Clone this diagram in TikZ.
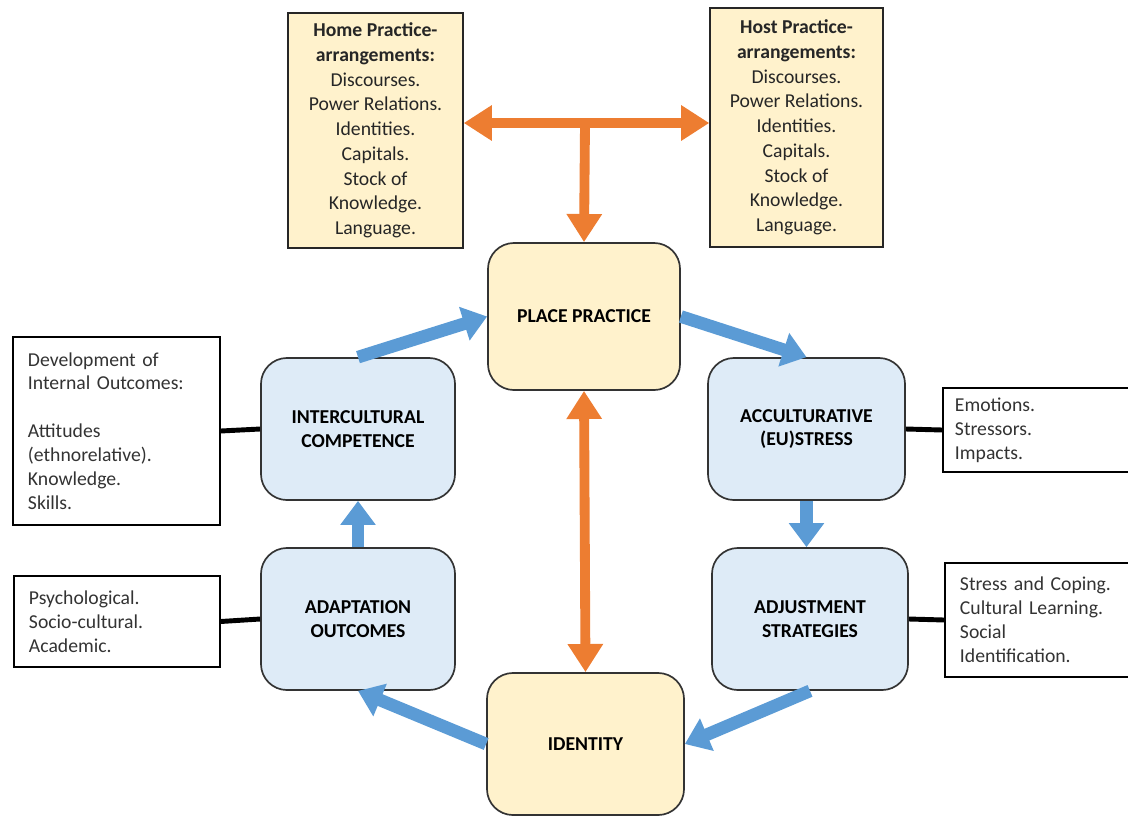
\documentclass[tikz,border=0pt]{standalone}
\usepackage{fontspec}
\setmainfont{Carlito}
\usetikzlibrary{positioning,calc,arrows.meta}

\definecolor{cream}{HTML}{FFF2CC}
\definecolor{paleblue}{HTML}{DEEBF7}
\definecolor{flowblue}{HTML}{5B9BD5}
\definecolor{linkorange}{HTML}{ED7D31}

\begin{document}
\begin{tikzpicture}[x=0.025cm,y=-0.025cm,
	every node/.style={font=\fontsize{14}{17}\selectfont},
	practicebox/.style={draw=black!85,line width=1pt,fill=cream,align=center,inner sep=0pt,text=black!85,font=\fontsize{14}{17.6}\selectfont},
	placebox/.style={draw=black!80,line width=1.2pt,fill=cream,rounded corners=0.65cm,align=center,font=\fontsize{14}{17}\selectfont\bfseries},
	stagebox/.style={placebox,fill=paleblue},
	notebox/.style={draw=black,line width=1pt,fill=white,align=left,text=black!80},
	flow/.style={draw=flowblue,line width=9pt,-{Triangle[length=17pt,width=24pt]}},
	link/.style={draw=linkorange,line width=7pt,{Triangle[length=20pt,width=24pt]}-{Triangle[length=20pt,width=24pt]}},
	tie/.style={draw=black,line width=3.5pt}]
	
	\useasboundingbox (0,0) rectangle (1128,816);
	
	% practice-arrangements
	\node[practicebox, minimum width=4.375cm, minimum height=5.875cm] (home) at (375.5,130.5)
	{\textbf{Home Practice-}\\\textbf{arrangements:}\\Discourses.\\Power Relations.\\Identities.\\Capitals.\\Stock of\\Knowledge.\\Language.};
	\node[practicebox, minimum width=4.325cm, minimum height=5.975cm] (host) at (796.5,127.5)
	{\textbf{Host Practice-}\\\textbf{arrangements:}\\Discourses.\\Power Relations.\\Identities.\\Capitals.\\Stock of\\Knowledge.\\Language.};
	
	% centre column
	\node[placebox, minimum width=4.8cm, minimum height=3.675cm] (place) at (584,316.5) {PLACE PRACTICE};
	\node[placebox, minimum width=4.925cm, minimum height=3.55cm] (identity) at (585.5,744) {IDENTITY};
	
	% stages
	\node[stagebox, minimum width=4.85cm, minimum height=3.55cm] (comp) at (358,429) {INTERCULTURAL\\COMPETENCE};
	\node[stagebox, minimum width=4.925cm, minimum height=3.55cm] (stress) at (806.5,429) {ACCULTURATIVE\\(EU)STRESS};
	\node[stagebox, minimum width=4.85cm, minimum height=3.55cm] (adapt) at (358,619) {ADAPTATION\\OUTCOMES};
	\node[stagebox, minimum width=4.9cm, minimum height=3.55cm] (adjust) at (810,619) {ADJUSTMENT\\STRATEGIES};
	
	% notes
	\node[notebox, inner xsep=0.375cm, text width=4.425cm, minimum height=4.7cm] (compnote) at (116.5,431)
	{Development of\\Internal Outcomes:\\[17pt]Attitudes\\(ethnorelative).\\Knowledge.\\Skills.};
	\node[notebox, inner xsep=0.375cm, text width=4.4cm, minimum height=2.275cm] (adaptnote) at (117,621.5)
	{Psychological.\\Socio-cultural.\\Academic.};
	\node[notebox, inner xsep=0.3cm, text width=4.15cm, minimum height=2.1cm] (stressnote) at (1038,430)
	{Emotions.\\Stressors.\\Impacts.};
	\node[notebox, inner xsep=0.375cm, text width=3.95cm, minimum height=2.85cm] (adjustnote) at (1039,620)
	{Stress and Coping.\\Cultural Learning.\\Social\\Identification.};
	
	\draw[tie] (compnote.east) -- (comp.west);
	\draw[tie] (adaptnote.east) -- (adapt.west);
	\draw[tie] (stress.east) -- (stressnote.west);
	\draw[tie] (adjust.east) -- (adjustnote.west);
	
	% orange links
	\coordinate (tee) at (585,123);
	\draw[link] (home.east |- tee) -- (host.west |- tee);
	\draw[draw=linkorange,line width=7pt,-{Triangle[length=20pt,width=24pt]}] (tee) -- (place.north);
	\draw[link] (place.south) -- (identity.north);
	
	% blue cycle
	\draw[flow] (comp.north) -- (place.west);
	\draw[flow] (place.east) -- (stress.north);
	\draw[flow] (stress.south) -- (stress.south |- adjust.north);
	\draw[flow] (adjust.south) -- (identity.east);
	\draw[flow] (identity.west) -- (adapt.south);
	\draw[flow] (adapt.north) -- (comp.south);
	
\end{tikzpicture}
\end{document}
